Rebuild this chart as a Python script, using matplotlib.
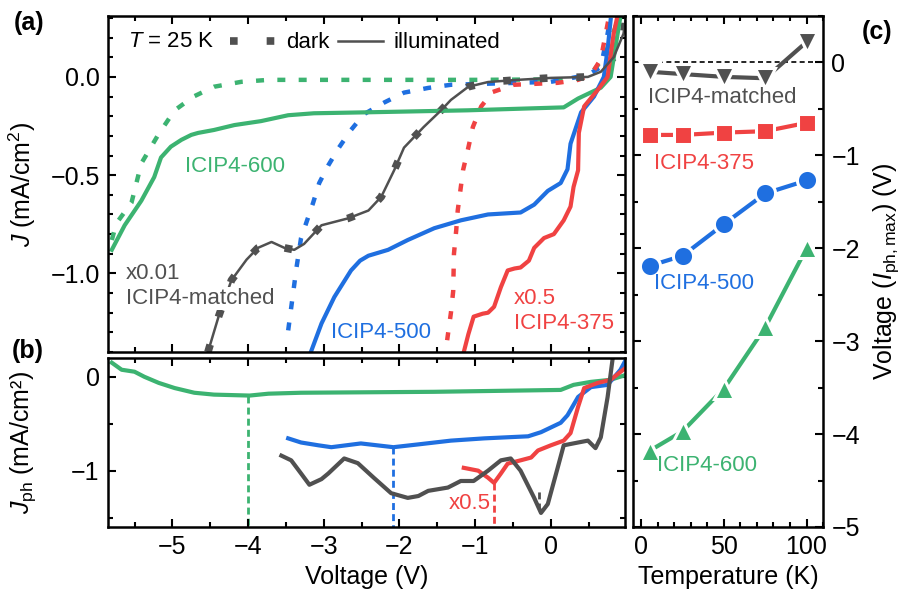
import numpy as np
import matplotlib
matplotlib.use('Agg')
import matplotlib.pyplot as plt
from matplotlib.ticker import MultipleLocator
from matplotlib.lines import Line2D

plt.rcParams['font.family'] = ['Liberation Sans', 'DejaVu Sans']
plt.rcParams['mathtext.fontset'] = 'custom'
plt.rcParams['mathtext.rm'] = 'Liberation Sans'
plt.rcParams['mathtext.it'] = 'Liberation Sans:italic'
plt.rcParams['mathtext.bf'] = 'Liberation Sans:bold'

GREEN = '#3cb371'
BLUE = '#1f6fe0'
RED = '#f04242'
GRAY = '#505050'

# ---- panel (a): J-V curves, dark and illuminated ----
v600_dark = [-5.80, -5.74, -5.54, -5.41, -5.18, -4.97, -4.72, -4.45, -4.09, -3.73, -2.5, -1.0, 0.3, 0.5, 0.7, 0.85, 0.92]
j600_dark = [-0.83, -0.745, -0.64, -0.44, -0.29, -0.17, -0.10, -0.05, -0.025, -0.015, -0.015, -0.015, -0.012, 0.0, 0.1, 0.25, 0.33]
v600_ill = [-5.80, -5.63, -5.41, -5.24, -5.15, -5.02, -4.88, -4.75, -4.66, -4.45, -4.18, -3.83, -3.47, -3.13, -2.41, -1.10, 0.17, 0.36, 0.66, 0.79, 0.92]
j600_ill = [-0.88, -0.755, -0.63, -0.51, -0.41, -0.355, -0.32, -0.295, -0.285, -0.27, -0.245, -0.225, -0.195, -0.185, -0.18, -0.17, -0.155, -0.11, -0.055, 0.0, 0.31]

v500_dark = [-3.47, -3.36, -3.30, -3.14, -3.06, -2.94, -2.80, -2.64, -2.47, -2.20, -1.94, -1.62, -1.32, -0.44, 0.0, 0.49, 0.66, 0.75, 0.79]
j500_dark = [-1.29, -0.97, -0.82, -0.64, -0.54, -0.45, -0.36, -0.27, -0.19, -0.13, -0.08, -0.056, -0.04, -0.03, -0.025, 0.01, 0.05, 0.22, 0.31]
v500_ill = [-3.17, -3.03, -2.86, -2.64, -2.52, -2.41, -2.15, -1.89, -1.54, -1.19, -0.83, -0.40, -0.22, -0.04, 0.13, 0.22, 0.26, 0.40, 0.57, 0.70, 0.75, 0.79]
j500_ill = [-1.40, -1.255, -1.12, -0.985, -0.935, -0.91, -0.88, -0.83, -0.77, -0.73, -0.70, -0.69, -0.65, -0.58, -0.54, -0.47, -0.34, -0.18, -0.10, 0.0, 0.14, 0.29]

v375_dark = [-1.37, -1.32, -1.29, -1.28, -1.25, -1.23, -1.16, -1.09, -1.03, -0.92, -0.77, -0.49, 0.09, 0.36, 0.53, 0.66, 0.77]
j375_dark = [-1.34, -1.20, -1.09, -0.90, -0.78, -0.68, -0.475, -0.36, -0.255, -0.15, -0.077, -0.04, -0.03, -0.015, 0.01, 0.09, 0.31]
v375_ill = [-1.15, -1.09, -1.02, -0.90, -0.83, -0.75, -0.66, -0.57, -0.48, -0.40, -0.29, -0.22, -0.09, 0.04, 0.17, 0.26, 0.30, 0.36, 0.37, 0.44, 0.62, 0.75, 0.83, 0.88]
j375_ill = [-1.40, -1.31, -1.22, -1.205, -1.20, -1.17, -1.07, -0.985, -0.975, -0.97, -0.935, -0.87, -0.82, -0.80, -0.73, -0.66, -0.56, -0.475, -0.285, -0.15, -0.066, 0.0, 0.22, 0.31]

vmat = [-4.53, -4.39, -4.22, -4.02, -3.87, -3.69, -3.52, -3.39, -3.26, -3.03, -2.68, -2.41, -2.24, -2.07, -1.94, -1.68, -1.45, -1.32, -1.09, -0.83, -0.44, 0.0, 0.49, 0.66, 0.83, 0.96, 0.99]
jmat = [-1.40, -1.22, -1.035, -0.93, -0.87, -0.84, -0.87, -0.88, -0.85, -0.755, -0.72, -0.68, -0.61, -0.475, -0.36, -0.255, -0.17, -0.117, -0.05, -0.026, -0.015, -0.005, 0.0, 0.026, 0.10, 0.22, 0.30]

# ---- panel (b): photocurrent ----
vph600 = [-5.80, -5.67, -5.50, -5.37, -5.18, -4.97, -4.71, -4.45, -3.98, -3.73, -3.30, -1.54, 0.13, 0.30, 0.53, 0.79, 0.99]
jph600 = [0.15, 0.075, 0.054, 0.0, -0.065, -0.12, -0.17, -0.19, -0.20, -0.18, -0.17, -0.16, -0.14, -0.086, -0.054, -0.032, 0.02]
vph500 = [-3.47, -3.30, -3.07, -2.90, -2.51, -2.08, -1.75, -1.32, -0.88, -0.30, -0.13, 0.13, 0.22, 0.36, 0.53, 0.75, 0.92, 0.99]
jph500 = [-0.656, -0.70, -0.73, -0.75, -0.71, -0.75, -0.72, -0.68, -0.656, -0.634, -0.59, -0.49, -0.41, -0.215, -0.11, -0.086, 0.075, 0.18]
vph375 = [-1.15, -0.96, -0.83, -0.75, -0.66, -0.57, -0.40, -0.26, -0.17, 0.0, 0.17, 0.26, 0.36, 0.44, 0.62, 0.79, 0.99]
jph375 = [-0.97, -1.0, -1.075, -1.13, -1.03, -0.925, -0.89, -0.86, -0.785, -0.73, -0.68, -0.60, -0.32, -0.12, -0.065, -0.032, 0.097]
vphmat = [-3.56, -3.43, -3.30, -3.19, -3.03, -2.94, -2.73, -2.55, -2.34, -2.11, -1.89, -1.75, -1.62, -1.36, -1.19, -1.02, -0.83, -0.66, -0.53, -0.40, -0.22, -0.13, -0.04, 0.09, 0.17, 0.36, 0.49, 0.59, 0.66, 0.75, 0.82]
jphmat = [-0.84, -0.89, -1.03, -1.15, -1.09, -1.03, -0.87, -0.92, -1.075, -1.24, -1.29, -1.27, -1.215, -1.18, -1.11, -1.11, -1.0, -0.89, -0.87, -1.0, -1.29, -1.45, -1.355, -0.97, -0.73, -0.70, -0.68, -0.76, -0.645, -0.215, 0.215]

# voltage of max photocurrent at 25 K (dashed markers in b)
vmax_25K = [-4.0, -2.08, -0.75, -0.15]

# ---- panel (c): V at max photocurrent vs temperature ----
temps = [5, 25, 50, 75, 100]
vmax_mat = [-0.10, -0.125, -0.155, -0.17, 0.22]
vmax_375 = [-0.78, -0.78, -0.755, -0.74, -0.65]
vmax_500 = [-2.19, -2.08, -1.74, -1.41, -1.27]
vmax_600 = [-4.18, -3.97, -3.51, -2.85, -2.0]

fig = plt.figure(figsize=(9.01, 5.95), dpi=100)
ax_a = fig.add_axes([0.1199, 0.4084, 0.5738, 0.5647])
ax_b = fig.add_axes([0.1199, 0.1143, 0.5738, 0.2840], sharex=ax_a)
ax_c = fig.add_axes([0.7026, 0.1143, 0.2109, 0.8588])

dotted = (0, (1.8, 3.0))
gray_dash = (0, (1.0, 3.8))

# (a)
for v, j, c in [(v600_dark, j600_dark, GREEN), (v500_dark, j500_dark, BLUE), (v375_dark, j375_dark, RED)]:
    ax_a.plot(v, j, color=c, lw=3.2, ls=dotted, dash_capstyle='butt')
ax_a.plot(vmat, jmat, color=GRAY, lw=5.5, ls=gray_dash, dash_capstyle='butt')
for v, j, c in [(v600_ill, j600_ill, GREEN), (v500_ill, j500_ill, BLUE), (v375_ill, j375_ill, RED)]:
    ax_a.plot(v, j, color=c, lw=3.0, solid_joinstyle='round')
ax_a.plot(vmat, jmat, color=GRAY, lw=1.8)

ax_a.set_xlim(-5.85, 0.98)
ax_a.set_ylim(-1.40, 0.31)
ax_a.set_ylabel('$J$ (mA/cm$^2$)', fontsize=18)

ax_a.text(-5.58, 0.18, '$T$ = 25 K', fontsize=16, va='center')
handles = [Line2D([], [], color=GRAY, lw=5.5, ls=gray_dash, dash_capstyle='butt'),
           Line2D([], [], color=GRAY, lw=1.8)]
ax_a.legend(handles, ['dark', 'illuminated'], ncol=2, loc='center left',
            bbox_to_anchor=(0.215, 0.92), frameon=False, fontsize=16,
            handlelength=2.0, handletextpad=0.5, columnspacing=0.4, borderpad=0)

ax_a.text(-4.83, -0.455, 'ICIP4-600', color=GREEN, fontsize=16, va='center')
ax_a.text(-5.61, -1.0, 'x0.01', color=GRAY, fontsize=16, va='center')
ax_a.text(-5.61, -1.128, 'ICIP4-matched', color=GRAY, fontsize=16, va='center', zorder=5,
          bbox=dict(facecolor='white', edgecolor='none', pad=1))
ax_a.text(-2.90, -1.30, 'ICIP4-500', color=BLUE, fontsize=16, va='center')
ax_a.text(-0.49, -1.128, 'x0.5', color=RED, fontsize=16, va='center')
ax_a.text(-0.49, -1.255, 'ICIP4-375', color=RED, fontsize=16, va='center')

# (b)
ylim_b = (-1.6, 0.2)
curves_b = [(vph600, jph600, GREEN), (vph500, jph500, BLUE), (vph375, jph375, RED), (vphmat, jphmat, GRAY)]
for v, j, c in curves_b:
    ax_b.plot(v, j, color=c, lw=3.0, solid_joinstyle='round')
drop_end = [ylim_b[0], ylim_b[0], ylim_b[0], -1.19]
for (v, j, c), vm, end in zip(curves_b, vmax_25K, drop_end):
    top = np.interp(vm, v, j)
    ax_b.plot([vm, vm], [top, end], color=c, lw=2, ls=(0, (2.5, 1.5)), zorder=1)
ax_b.set_ylim(*ylim_b)
ax_b.set_xlabel('Voltage (V)', fontsize=18)
ax_b.set_ylabel('$J_{\\rm ph}$ (mA/cm²)', fontsize=18)
ax_b.text(-1.35, -1.355, 'x0.5', color=RED, fontsize=16, va='center')

# (c)
ax_c.axhline(0, color='black', lw=1.2, ls=(0, (3, 2)), zorder=1)
for vals, c, m, ms in [(vmax_mat, GRAY, 'v', 15), (vmax_375, RED, 's', 12.5),
                       (vmax_500, BLUE, 'o', 14.5), (vmax_600, GREEN, '^', 15)]:
    ax_c.plot(temps, vals, color=c, lw=3.0, marker=m, ms=ms, mfc=c,
              mec='white', mew=2.2)
ax_c.set_xlim(-5, 110)
ax_c.set_ylim(-5, 0.5)
ax_c.set_xlabel('Temperature (K)', fontsize=18)
ax_c.yaxis.set_label_position('right')
ax_c.yaxis.tick_right()
ax_c.set_ylabel('Voltage ($I_{\\rm ph,max}$) (V)', fontsize=18, labelpad=8)
ax_c.text(49, -0.38, 'ICIP4-matched', color=GRAY, fontsize=16, ha='center', va='center')
ax_c.text(38, -1.09, 'ICIP4-375', color=RED, fontsize=16, ha='center', va='center')
ax_c.text(38, -2.38, 'ICIP4-500', color=BLUE, fontsize=16, ha='center', va='center')
ax_c.text(40, -4.34, 'ICIP4-600', color=GREEN, fontsize=16, ha='center', va='center')

# ticks
ax_a.xaxis.set_major_locator(MultipleLocator(1))
ax_a.xaxis.set_minor_locator(MultipleLocator(0.5))
ax_a.yaxis.set_major_locator(MultipleLocator(0.5))
ax_a.yaxis.set_minor_locator(MultipleLocator(0.1))
ax_b.yaxis.set_major_locator(MultipleLocator(1))
ax_b.yaxis.set_minor_locator(MultipleLocator(0.5))
ax_c.xaxis.set_major_locator(MultipleLocator(50))
ax_c.xaxis.set_minor_locator(MultipleLocator(10))
ax_c.yaxis.set_major_locator(MultipleLocator(1))
ax_c.yaxis.set_minor_locator(MultipleLocator(0.5))

for ax in (ax_a, ax_b, ax_c):
    for s in ax.spines.values():
        s.set_linewidth(1.8)
    ax.tick_params(which='both', direction='in', top=True, bottom=True, left=True, right=True,
                   width=1.5, labelsize=18, pad=6)
    ax.tick_params(which='major', length=6)
    ax.tick_params(which='minor', length=3.5)
ax_a.tick_params(labelbottom=False)
ax_c.tick_params(labelleft=False, labelright=True)

ax_a.yaxis.set_label_coords(-0.135, 0.5)
ax_b.yaxis.set_label_coords(-0.135, 0.5)

fig.text(0.032, 0.961, '(a)', fontsize=18, fontweight='bold', ha='center', va='center')
fig.text(0.031, 0.41, '(b)', fontsize=18, fontweight='bold', ha='center', va='center')
fig.text(0.973, 0.946, '(c)', fontsize=18, fontweight='bold', ha='center', va='center')

fig.savefig('out.png', dpi=100)
